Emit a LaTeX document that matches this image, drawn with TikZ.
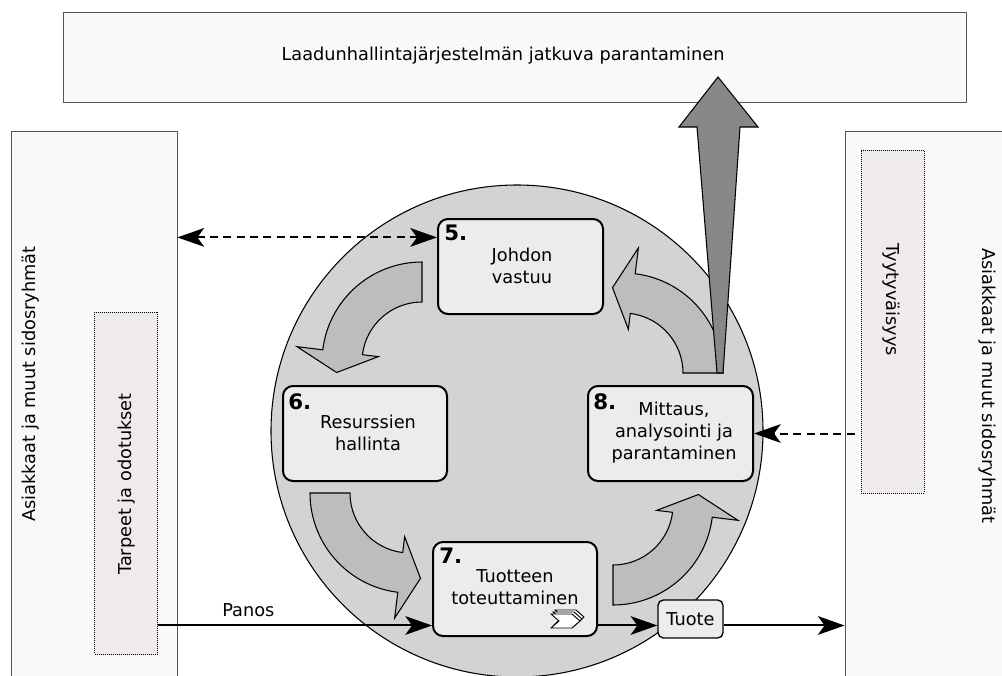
\documentclass[tikz,border=0pt]{standalone}
\usepackage{fontspec}
\setmainfont{DejaVu Sans}
\usetikzlibrary{arrows.meta,calc}
\definecolor{boxfill}{HTML}{ECECEC}
\definecolor{circfill}{HTML}{D3D3D3}
\definecolor{cafill}{HTML}{BDBDBD}
\definecolor{outerfill}{HTML}{F9F9F9}
\definecolor{dotfill}{HTML}{EFEBEB}
\definecolor{bigarrowfill}{HTML}{888888}
\definecolor{outerline}{HTML}{555555}
\newcommand{\cyclearrow}[3]{%
  \draw[curvarrow] ($(#1,#2)+({-(#3)}:100)$) arc[start angle={-(#3)}, end angle={-(#3)-83}, radius=100]
    -- ($(#1,#2)+({-(#3)-83}:126)$) -- ($(#1,#2)+({-(#3)-97}:86)$) -- ($(#1,#2)+({-(#3)-83}:44)$)
    -- ($(#1,#2)+({-(#3)-83}:60)$) arc[start angle={-(#3)-83}, end angle={-(#3)}, radius=60] -- cycle;}
\newcommand{\chevronshape}[2]{%
  \draw[chev] (#1,#2) -- ++(21,0) -- ++(8,7) -- ++(-8,7) -- ++(-21,0) -- ++(8,-7) -- cycle;}
\begin{document}
\begin{tikzpicture}[x=0.75pt,y=-0.75pt,
  font=\fontsize{13.3}{16.5}\selectfont,
  >={Stealth[length=20pt,width=14pt,inset=5pt]},
  outerbox/.style={draw=outerline, fill=outerfill, line width=0.6pt, inner sep=0pt},
  dotbox/.style={draw=black, densely dotted, fill=dotfill, line width=0.5pt, inner sep=0pt},
  mainbox/.style={draw=black, fill=boxfill, line width=1.5pt, rounded corners=7.5pt, align=center, inner sep=0pt},
  boxtext/.style={align=center, inner sep=0pt},
  numlabel/.style={font=\fontsize{16}{16}\bfseries\selectfont, inner sep=0pt, anchor=north west},
  curvarrow/.style={draw=black, fill=cafill, line width=0.8pt, line join=miter},
  chev/.style={draw=black, fill=white, line width=0.7pt},
  conn/.style={line width=1.5pt, ->},
  dconn/.style={line width=1.5pt, dash pattern=on 6pt off 4pt}
]
\useasboundingbox (0,0) rectangle (1002,675);
\clip (0,0) rectangle (1002,675);
% top box
\node[outerbox, minimum width=677.25pt, minimum height=67.5pt] (top) at (514.5,57) {};
\node[boxtext] (toptext) at (503,56) {Laadunhallintajärjestelmän jatkuva parantaminen};
% side boxes
\node[outerbox, minimum width=124.5pt, minimum height=411.75pt] (lbox) at (94,405.5) {};
\node[rotate=90] (ltext) at (31,384) {Asiakkaat ja muut sidosryhmät};
\node[dotbox, minimum width=47.25pt, minimum height=256.5pt] (tarp) at (126,483) {};
\node[rotate=90] (tarptext) at (127,484) {Tarpeet ja odotukset};
\node[outerbox, minimum width=123.75pt, minimum height=411.75pt] (rbox) at (927.5,405.5) {};
\node[rotate=-90] (rtext) at (987,386) {Asiakkaat ja muut sidosryhmät};
\node[dotbox, minimum width=47.25pt, minimum height=257.25pt] (tyyt) at (892.5,321.5) {};
\node[rotate=-90] (tyyttext) at (891,300) {Tyytyväisyys};
% circle
\node[circle, draw=black, line width=0.8pt, fill=circfill, minimum size=369pt, inner sep=0pt] (circ) at (517,431) {};
% cycle arrows
\cyclearrow{422}{362}{90}
\cyclearrow{410}{493}{180}
\cyclearrow{613}{505}{270}
\cyclearrow{623}{373}{0}
% process boxes
\node[mainbox, minimum width=123.75pt, minimum height=71.25pt] (b5) at (520.5,266.5) {};
\node[boxtext] (t5) at (522,266) {Johdon\\vastuu};
\node[numlabel] (n5) at ($(b5.north west)+(7,7)$) {5.};
\node[mainbox, minimum width=123pt, minimum height=71.25pt] (b6) at (365,433.5) {};
\node[boxtext] (t6) at (368,433) {Resurssien\\hallinta};
\node[numlabel] (n6) at ($(b6.north west)+(6,8)$) {6.};
\node[mainbox, minimum width=123pt, minimum height=70.5pt] (b7) at (515,589) {};
\node[boxtext] (t7) at (515,587) {Tuotteen\\toteuttaminen};
\node[numlabel] (n7) at ($(b7.north west)+(7,7)$) {7.};
\node[mainbox, minimum width=123.75pt, minimum height=71.25pt] (b8) at (670.5,433.5) {};
\node[boxtext] (t8) at (674,433) {Mittaus,\\analysointi ja\\parantaminen};
\node[numlabel] (n8) at ($(b8.north west)+(6,8)$) {8.};
\node[mainbox, rounded corners=4pt, line width=1pt, minimum width=48.75pt, minimum height=28.5pt] (tuote) at (690.5,619) {Tuote};
% chevron icon
\chevronshape{555}{610}
\chevronshape{553}{612}
\chevronshape{551}{614}
% connectors
\coordinate (y5) at ($(b5.north west)!0.2!(b5.south west)$);
\draw[dconn, <->] (lbox.east |- y5) -- (y5);
\coordinate (dstart) at ($(rbox.west |- b8.east)+(10,0)$);
\draw[dconn, ->] (dstart) -- (b8.east);
\coordinate (yp) at ($(b7.north west)!0.88!(b7.south west)$);
\draw[conn] (tarp.east |- yp) -- node[above=4pt, inner sep=2pt, pos=0.33] (panos) {Panos} (yp);
\draw[conn] (b7.east |- yp) -- (tuote.west |- yp);
\draw[conn] (tuote.east |- yp) -- (rbox.west |- yp);
% big arrow
\draw[draw=black, fill=bigarrowfill, line width=0.8pt, line join=miter] (717,373) -- (697,127) -- (679,127) -- (718,77) -- (758,127) -- (740,127) -- (723,373) -- cycle;
\end{tikzpicture}
\end{document}
